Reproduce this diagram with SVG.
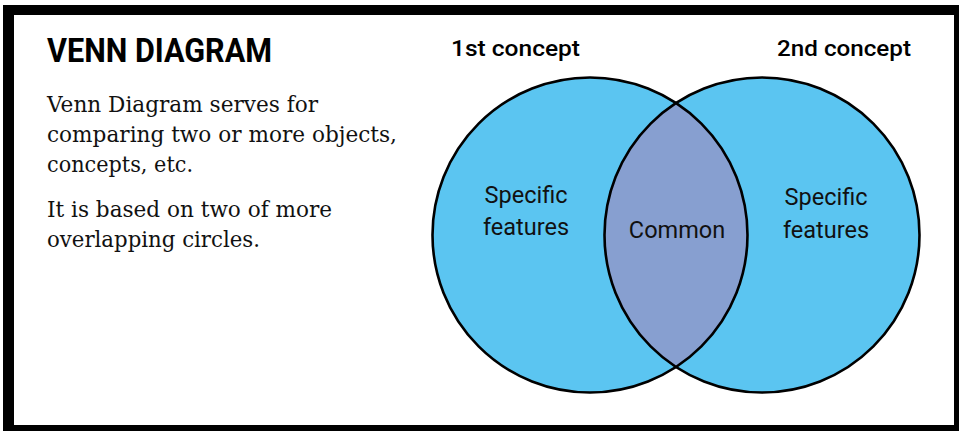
<svg xmlns="http://www.w3.org/2000/svg" width="959" height="431" viewBox="0 0 959 431">
  <style>
    .title { font-family: Roboto, "Liberation Sans", sans-serif; font-weight: 700; font-size: 33px; fill: #000; }
    .body { font-family: "DejaVu Serif", "Liberation Serif", serif; font-size: 21.5px; fill: #111; }
    .head { font-family: Roboto, "Liberation Sans", sans-serif; font-weight: 500; font-size: 22px; fill: #000; }
    .lbl { font-family: Roboto, "Liberation Sans", sans-serif; font-weight: 400; font-size: 23.5px; fill: #111; text-anchor: middle; }
    .circ { fill: #5bc5f1; }
    .lens { fill: #879fd0; }
    .outline { fill: none; stroke: #000; stroke-width: 2.6; }
  </style>
  <rect x="0" y="0" width="959" height="431" fill="#fff"/>
  <g id="frame">
    <rect x="3" y="5" width="956" height="426" fill="#000"/>
    <rect x="14" y="15" width="940" height="410" fill="#fff"/>
  </g>
  <g id="description">
    <text class="title" x="47" y="62" textLength="225" lengthAdjust="spacingAndGlyphs">VENN DIAGRAM</text>
    <text class="body" x="47" y="112" textLength="271" lengthAdjust="spacingAndGlyphs">Venn Diagram serves for</text>
    <text class="body" x="47" y="142" textLength="350" lengthAdjust="spacingAndGlyphs">comparing two or more objects,</text>
    <text class="body" x="47" y="172" textLength="146" lengthAdjust="spacingAndGlyphs">concepts, etc.</text>
    <text class="body" x="47" y="217" textLength="285" lengthAdjust="spacingAndGlyphs">It is based on two of more</text>
    <text class="body" x="47" y="247" textLength="213" lengthAdjust="spacingAndGlyphs">overlapping circles.</text>
  </g>
  <g id="circle-1">
    <circle class="circ" cx="590" cy="235" r="157.5"/>
  </g>
  <g id="circle-2">
    <circle class="circ" cx="762" cy="235" r="157.5"/>
  </g>
  <g id="common">
    <path class="lens" d="M676,103 A157.5,157.5 0 0 1 676,367 A157.5,157.5 0 0 1 676,103 Z"/>
  </g>
  <g id="outlines">
    <circle class="outline" cx="590" cy="235" r="157.5"/>
    <circle class="outline" cx="762" cy="235" r="157.5"/>
  </g>
  <g id="labels">
    <text class="head" x="451" y="56" textLength="129" lengthAdjust="spacingAndGlyphs">1st concept</text>
    <text class="head" x="777" y="56" textLength="134" lengthAdjust="spacingAndGlyphs">2nd concept</text>
    <text class="lbl" x="526" y="203">Specific</text>
    <text class="lbl" x="526" y="235">features</text>
    <text class="lbl" x="677" y="238">Common</text>
    <text class="lbl" x="826" y="205">Specific</text>
    <text class="lbl" x="826" y="238">features</text>
  </g>
</svg>
